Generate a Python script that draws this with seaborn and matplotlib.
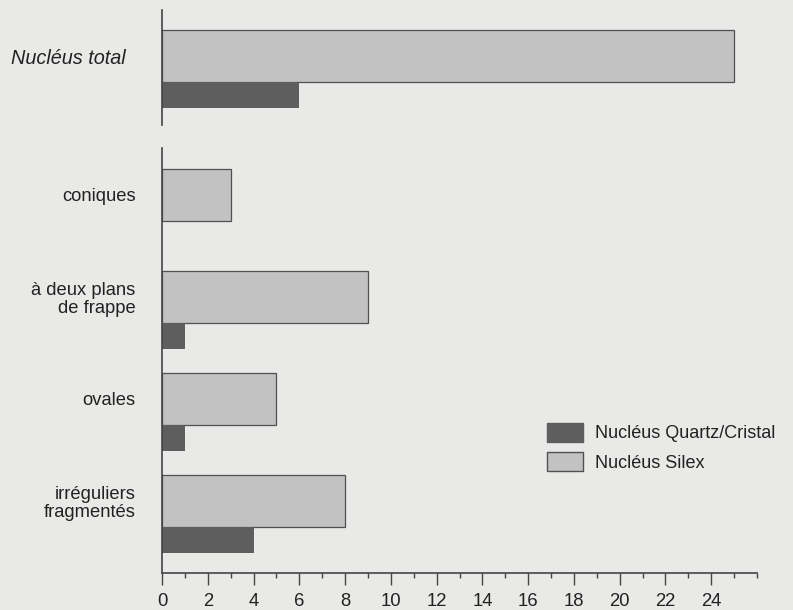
import matplotlib
matplotlib.use("Agg")
import matplotlib.pyplot as plt
import numpy as np
import pandas as pd
import seaborn as sns
from matplotlib.patches import Patch
from matplotlib.ticker import MultipleLocator

# data
total_label = ["Nucléus total"]
total_silex = [25]
total_quartz = [6]

categories = ["coniques", "à deux plans\nde frappe", "ovales", "irréguliers\nfragmentés"]
silex = [3, 9, 5, 8]
quartz = [0, 1, 1, 4]

paper = "#e9e9e7"
silex_col = "#c2c2c2"
quartz_col = "#5e5e5e"
edge_col = "#505050"
ink = "#222222"

sns.set_style("white")
plt.rcParams["font.family"] = ["Liberation Sans", "DejaVu Sans"]

fig = plt.figure(figsize=(7.93, 6.10), dpi=100)
fig.patch.set_facecolor(paper)

ax_top = fig.add_axes([0.2043, 0.7951, 0.7503, 0.1885])
ax = fig.add_axes([0.2043, 0.0607, 0.7503, 0.6967])

w_silex = 0.51
w_quartz = 0.255


def draw_group(a, labels, s_vals, q_vals):
    df_s = pd.DataFrame({"cat": labels, "val": s_vals})
    df_q = pd.DataFrame({"cat": labels, "val": q_vals})
    sns.barplot(data=df_s, x="val", y="cat", orient="h", width=w_silex,
                color=silex_col, saturation=1, edgecolor=edge_col, linewidth=0.9, ax=a)
    n = len(a.patches)
    sns.barplot(data=df_q, x="val", y="cat", orient="h", width=w_quartz,
                color=quartz_col, saturation=1, linewidth=0, ax=a)
    # put the quartz bar just under the silex bar
    for p in a.patches[n:]:
        p.set_y(p.get_y() + (w_silex + w_quartz) / 2)


draw_group(ax_top, total_label, total_silex, total_quartz)
draw_group(ax, categories, silex, quartz)

for a in (ax_top, ax):
    a.set_facecolor(paper)
    a.set_xlim(0, 26)
    a.set_xlabel("")
    a.set_ylabel("")
    for s in ["top", "right"]:
        a.spines[s].set_visible(False)
    a.spines["left"].set_color("#444444")
    a.spines["left"].set_linewidth(1.2)
    a.tick_params(axis="y", length=0, labelcolor=ink)

ax_top.set_ylim(0.676, -0.451)
ax_top.spines["bottom"].set_visible(False)
ax_top.set_xticks([])
ax_top.set_yticks([0])
ax_top.set_yticklabels(total_label, fontsize=14.3, style="italic")
ax_top.tick_params(axis="y", pad=26)

ax.set_ylim(3.706, -0.46)
ax.set_yticks(np.arange(len(categories)))
ax.set_yticklabels(categories, fontsize=13.2, ha="right", multialignment="right",
                   linespacing=1.08)
ax.tick_params(axis="y", pad=19)
ax.spines["bottom"].set_color("#444444")
ax.spines["bottom"].set_linewidth(1.2)
ax.xaxis.set_minor_locator(MultipleLocator(1))
ax.set_xticks(np.arange(0, 25, 2))
ax.tick_params(axis="x", which="major", direction="out", length=8.5, width=1,
               color="#444444", labelsize=13.3, labelcolor=ink, pad=6, bottom=True)
ax.tick_params(axis="x", which="minor", direction="out", length=3.8, width=1,
               color="#444444", bottom=True)

handles = [Patch(facecolor=quartz_col, edgecolor=quartz_col, label="Nucléus Quartz/Cristal"),
           Patch(facecolor=silex_col, edgecolor=edge_col, label="Nucléus Silex")]
leg = fig.legend(handles=handles, loc="upper left", bbox_to_anchor=(0.6898, 0.3066),
                 frameon=False, fontsize=13, handlelength=2.0, handleheight=1.22,
                 handletextpad=0.67, labelspacing=0.55, borderpad=0, borderaxespad=0)
for t in leg.get_texts():
    t.set_color(ink)

fig.savefig("out.png", dpi=100, facecolor=paper)
